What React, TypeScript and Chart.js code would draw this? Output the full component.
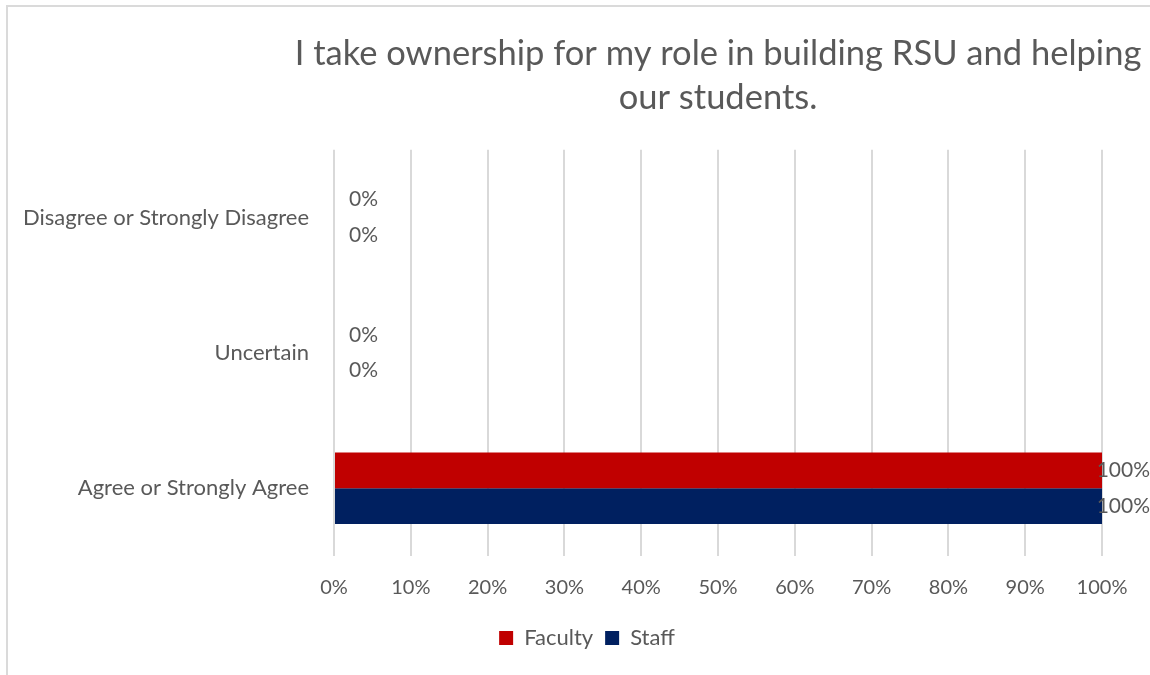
import React, { useEffect, useRef } from "react";
import { Chart, registerables } from "chart.js";

Chart.register(...registerables);

const titleLines = ["I take ownership for my role in building RSU and helping", "our students."];
const categories = ["Disagree or Strongly Disagree", "Uncertain", "Agree or Strongly Agree"];
const seriesNames = ["Faculty", "Staff"];
const facultyValues = [0, 0, 100];
const staffValues = [0, 0, 100];
const seriesColors = ["#C00000", "#002060"];
const xMin = 0;
const xMax = 100;
const xStep = 10;

const TEXT = "#595959";
const FONT = "Lato";

const valueLabelPlugin = {
  id: "valueLabels",
  afterDatasetsDraw(chart: any) {
    const ctx = chart.ctx;
    ctx.save();
    ctx.font = `21px ${FONT}`;
    ctx.fillStyle = TEXT;
    ctx.textBaseline = "middle";
    ctx.textAlign = "left";
    chart.data.datasets.forEach((ds: any, di: number) => {
      const meta = chart.getDatasetMeta(di);
      meta.data.forEach((el: any, i: number) => {
        const text = `${ds.data[i]}%`;
        const w = ctx.measureText(text).width;
        const x = Math.min(el.x + 15, chart.width - w);
        ctx.fillText(text, x, el.y);
      });
    });
    ctx.restore();
  },
};

// The title is centred over the plot area but must not be squeezed to its width.
const wideTitlePlugin = {
  id: "wideTitle",
  afterLayout(chart: any) {
    const t = chart.titleBlock;
    if (!t) return;
    const c = (t.left + t.right) / 2;
    const half = chart.width;
    t.left = c - half;
    t.right = c + half;
    t.width = half * 2;
  },
};

export default function App() {
  const ref = useRef<HTMLCanvasElement | null>(null);

  useEffect(() => {
    if (!ref.current) return;
    Chart.defaults.font.family = FONT;
    const chart = new Chart(ref.current, {
      type: "bar",
      data: {
        labels: categories,
        datasets: [
          {
            label: seriesNames[0],
            data: facultyValues,
            backgroundColor: seriesColors[0],
            borderWidth: 0,
            categoryPercentage: 0.527,
            barPercentage: 1,
          },
          {
            label: seriesNames[1],
            data: staffValues,
            backgroundColor: seriesColors[1],
            borderWidth: 0,
            categoryPercentage: 0.527,
            barPercentage: 1,
          },
        ],
      },
      options: {
        indexAxis: "y",
        responsive: false,
        animation: false,
        events: [],
        layout: { padding: { left: 16, right: 0, top: 0, bottom: 16 } },
        scales: {
          x: {
            min: xMin,
            max: xMax,
            ticks: {
              stepSize: xStep,
              color: TEXT,
              font: { size: 20, family: FONT },
              padding: 20,
              callback: (v: any) => `${v}%`,
            },
            grid: { color: "#d9d9d9", lineWidth: 2, drawTicks: false },
            border: { display: false },
            afterFit: (scale: any) => {
              scale.height = 59;
            },
          },
          y: {
            ticks: {
              color: TEXT,
              font: { size: 22, family: FONT },
              padding: 25,
            },
            grid: { display: false, drawTicks: false },
            border: { display: false },
            afterFit: (scale: any) => {
              scale.width = 310;
            },
          },
          rightSpace: {
            type: "linear",
            axis: "y",
            position: "right",
            display: true,
            ticks: { display: false },
            grid: { display: false, drawTicks: false },
            border: { display: false },
            afterFit: (scale: any) => {
              scale.width = 48;
            },
          },
        },
        plugins: {
          title: {
            display: true,
            text: titleLines,
            fullSize: false,
            color: TEXT,
            font: { size: 34.5, family: FONT, weight: "normal", lineHeight: 1.3 },
            padding: { top: 24, bottom: 29 },
          },
          legend: {
            position: "bottom",
            labels: {
              color: TEXT,
              font: { size: 22, family: FONT },
              boxWidth: 14,
              boxHeight: 14,
              padding: 12,
            },
          },
          tooltip: { enabled: false },
        },
      },
      plugins: [valueLabelPlugin, wideTitlePlugin],
    } as any);
    return () => chart.destroy();
  }, []);

  return (
    <div
      style={{
        position: "fixed",
        left: 0,
        top: 0,
        width: 1150,
        height: 675,
        overflow: "hidden",
        background: "#ffffff",
      }}
    >
      <div
        style={{
          position: "absolute",
          left: 6,
          top: 5,
          width: 1160,
          height: 690,
          borderLeft: "2px solid #dadada",
          borderTop: "2px solid #dadada",
        }}
      >
        <canvas ref={ref} width={1142} height={668} style={{ display: "block" }} />
      </div>
    </div>
  );
}
